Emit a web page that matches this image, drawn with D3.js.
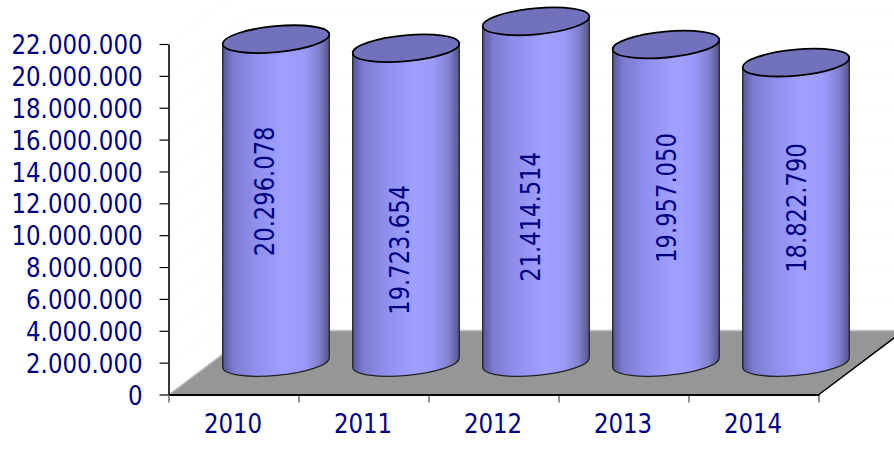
<!DOCTYPE html>
<html><head><meta charset="utf-8">
<script src="https://cdn.jsdelivr.net/npm/d3@7"></script>
<style>html,body{margin:0;padding:0;background:#fff}svg{display:block}
text{font-family:"DejaVu Sans Condensed","DejaVu Sans",sans-serif;fill:#000080}</style>
</head><body><svg id="c" width="894" height="451"></svg>
<script>
const years = ["2010","2011","2012","2013","2014"];
const values = [20296078,19723654,21414514,19957050,18822790];
const yTicks = [0,2000000,4000000,6000000,8000000,10000000,12000000,14000000,16000000,18000000,20000000,22000000];

// layout
const x0=169, x1=818, yBase=394.5, yTop=44, depthX=85, depthY=64;
const rx=53.5, ry=13, tilt=-5.3, fontSize=26.5;
const labelShift=[[-12,-9.5],[-7,44.5],[-6,25],[0,-5.5],[0,-4.5]]; // label offset from cylinder mid point

const svg=d3.select("#c");
const defs=svg.append("defs");
const g=defs.append("linearGradient").attr("id","cyl");
[[0,"#56569a"],[.1,"#7c7cd0"],[.3,"#8e8eec"],[.58,"#a0a0ff"],[.76,"#9a9af8"],[.9,"#8282ce"],[1,"#54548c"]]
 .forEach(([o,c])=>g.append("stop").attr("offset",o).attr("stop-color",c));

const y=d3.scaleLinear().domain([0,22000000]).range([yBase,yTop]);
const x=d3.scaleBand().domain(years).range([x0,x0+650]);
const fmt=d3.formatLocale({decimal:",",thousands:".",grouping:[3],currency:["",""]}).format(",d");

// narrow the glyphs a little so they keep the reference's tall proportions
function narrow(sel,f){ sel.each(function(){
  d3.select(this).attr("lengthAdjust","spacingAndGlyphs").attr("textLength",this.getComputedTextLength()*f);
}); }

// walls faint grid
const wall=svg.append("g").attr("stroke","#fafafa").attr("fill","none");
yTicks.slice(1).forEach(t=>wall.append("path")
  .attr("d",`M${x0},${y(t)}L${x0+depthX},${y(t)-depthY}H894`));

// floor
svg.append("path").attr("fill","#969696")
  .attr("d",`M${x0},${yBase}H${x0+650}L${x0+650+depthX},${yBase-depthY}H${x0+depthX}Z`);
svg.append("path").attr("fill","none").attr("stroke","#c4c4c4").attr("stroke-width",1.5)
  .attr("d",`M${x0},${yBase}L${x0+depthX},${yBase-depthY}H894`);
svg.append("path").attr("fill","none").attr("stroke","#000").attr("stroke-width",1.5)
  .attr("d",`M${x0+650},${yBase}L${x0+650+depthX},${yBase-depthY}`);

// axes
const ya=svg.append("g").attr("transform",`translate(${x0-.5},0)`)
  .call(d3.axisLeft(y).tickValues(yTicks).tickFormat(fmt).tickSize(9).tickPadding(17).tickSizeOuter(0));
ya.selectAll("text").style("font-size",fontSize+"px").attr("dy",".36em").call(narrow,.96);
ya.selectAll("line").attr("stroke","#000").attr("stroke-width",1.2);
ya.select(".domain").attr("stroke","#000").attr("stroke-width",1.6);

const xa=svg.append("g").attr("transform",`translate(0,${yBase})`)
  .call(d3.axisBottom(x).tickSize(0).tickPadding(20));
xa.selectAll("text").style("font-size",fontSize+"px").attr("dx","-1").attr("dy",".68em").call(narrow,.96);
xa.select(".domain").attr("stroke","#000").attr("stroke-width",1.8);
xa.selectAll(".edge").data([...years.map(d=>x(d)),x0+650]).join("line").attr("class","edge")
  .attr("x1",d=>d).attr("x2",d=>d).attr("y1",0).attr("y2",8).attr("stroke","#222").attr("stroke-width",1);

// cylinders
const a=tilt*Math.PI/180, dx=rx*Math.cos(a), dy=rx*Math.sin(a);
const cyl=svg.append("g").selectAll("g").data(years.map((d,i)=>({year:d,value:values[i],i}))).join("g");
cyl.each(function(d){
  const s=d3.select(this);
  const cx=x(d.year)+x.bandwidth()/2+depthX/2-.5;
  const yb=yBase-depthY/2;
  const yt=yb-(y(0)-y(d.value));
  s.append("path").attr("fill","url(#cyl)").attr("stroke","#222").attr("stroke-width",1.3)
   .attr("d",`M${cx-dx},${yt-dy}L${cx-dx},${yb-dy}A${rx},${ry} ${tilt} 0 0 ${cx+dx},${yb+dy}L${cx+dx},${yt+dy}Z`);
  s.append("ellipse").attr("cx",0).attr("cy",0).attr("rx",rx).attr("ry",ry)
   .attr("transform",`translate(${cx},${yt}) rotate(${tilt})`)
   .attr("fill","#7272bc").attr("stroke","#000").attr("stroke-width",1.8);
  const [ox,oy]=labelShift[d.i];
  s.append("text").attr("transform",`translate(${cx+ox},${(yt+yb)/2+oy}) rotate(-90)`)
   .attr("text-anchor","middle").attr("dy",".36em").style("font-size",fontSize+"px").text(fmt(d.value))
   .call(narrow,.95);
});
</script></body></html>
